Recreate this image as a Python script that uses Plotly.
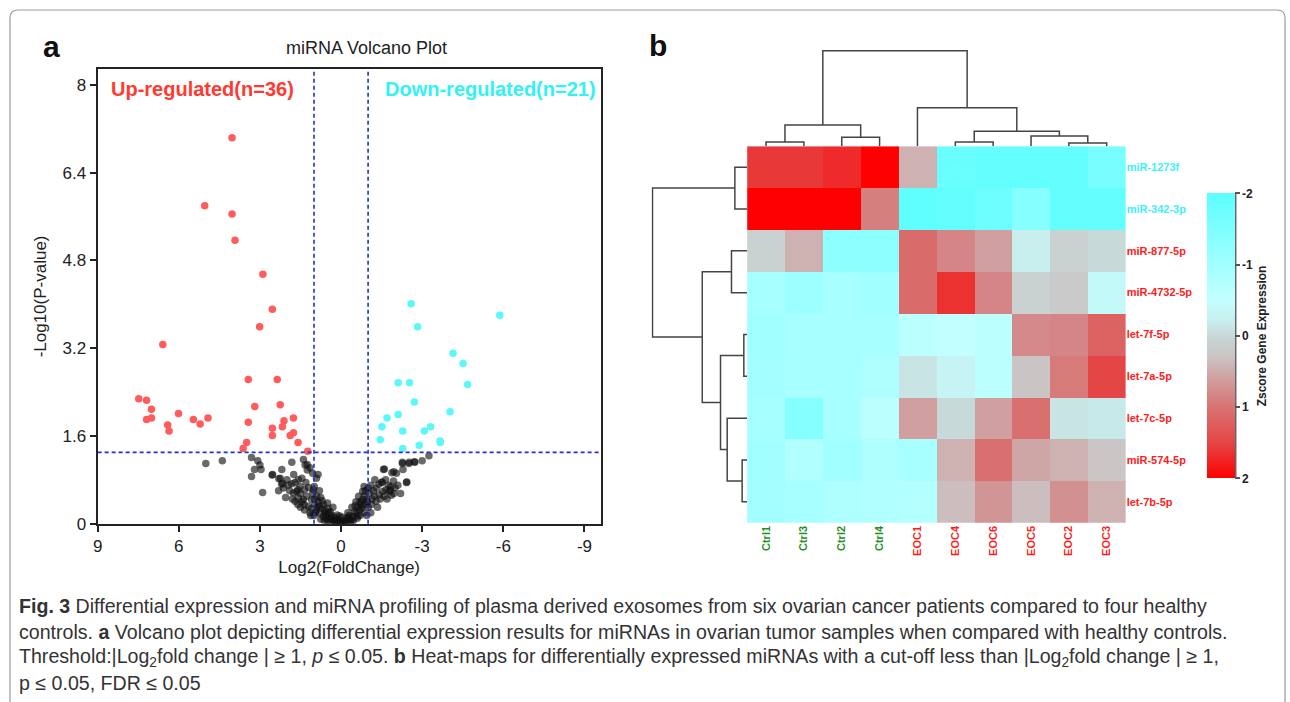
import plotly.graph_objects as go

W, H = 1290, 702          # reference picture size (layout is expressed in these pixels)
FIG_H = 713               # page height used so the photographed picture maps 1:1 to H
def fx(p):
    return p / W
def fy(p):
    return 1 - p / H

# ---------------- volcano data ----------------
up_log2fc = [4.03, 5.04, 4.03, 3.92, 2.89, 2.54, 3.01, 6.59, 3.43, 2.36, 7.48, 7.19, 7.01, 7.19,
             7.01, 6.01, 6.41, 6.36, 5.46, 5.21, 4.92, 3.19, 2.25, 3.43, 2.54, 2.11, 1.76, 2.17,
             2.54, 1.76, 1.88, 1.59, 3.49, 3.62, 1.23]
up_neglogp = [7.04, 5.80, 5.65, 5.17, 4.55, 3.91, 3.59, 3.27, 2.63, 2.63, 2.28, 2.25, 2.09, 1.90,
              1.93, 2.01, 1.80, 1.69, 1.90, 1.82, 1.93, 2.14, 2.17, 1.85, 1.74, 1.88, 1.93, 1.77,
              1.61, 1.66, 1.61, 1.48, 1.48, 1.37, 1.32]

down_log2fc = [-2.59, -5.87, -2.83, -4.14, -4.51, -4.68, -2.11, -2.53, -2.71, -4.03, -1.70, -2.11,
               -1.51, -2.28, -3.08, -3.31, -1.45, -3.66, -3.67, -2.89, -2.28]
down_neglogp = [4.01, 3.80, 3.59, 3.11, 2.92, 2.54, 2.57, 2.57, 2.22, 2.04, 1.93, 1.99,
                1.77, 1.69, 1.69, 1.77, 1.53, 1.51, 1.48, 1.43, 1.37]

ns_log2fc = [5.00, 4.39, 3.31, 3.08, 3.00, 2.96, 3.20, 3.31, 2.90, 2.53, 2.25, 2.19, 2.16, 2.31, 2.13,
             1.82, 1.82, 1.76, 1.58, 1.45, 1.39, 1.33, 1.25, 1.52, 1.64, 1.70, 1.58, 1.39, 1.27, 1.37,
             1.21, 1.09, 0.97, 0.91, 0.99, 1.05, 0.91, 0.78, 0.66, 0.54, 0.42, 0.30, 0.17, 0.05, -0.07,
             -0.19, -0.32, -0.44, -0.56, -0.68, -0.74, -0.80, -0.86, -0.80, -1.05, -1.23, -1.29, -1.41,
             -1.54, -1.66, -1.84, -1.78, -1.51, -1.57, -1.88, -1.94, -2.29, -2.27, -2.42, -2.51, -2.73,
             -3.00, -3.25,
             2.55, 2.00, 1.95, 2.05, 1.90, 2.30, 2.20, 1.70, 1.75, 1.60, 1.50, 1.45, 1.35, 1.30, 1.20,
             1.15, 1.10, 1.00, 1.35, 1.50, 1.60, 1.80, 1.25, 1.15, 1.05, 0.98, 0.90, 0.85, 0.80, 0.95,
             0.70, 0.60, 0.75, 0.62, 0.50, 0.45, 0.35, 0.25, 0.20, 0.10, 0.00, -0.10, -0.05, 0.15, 0.40,
             0.55, 0.65, -0.20, -0.30, -0.35, -0.45, -0.50, -0.60, -0.62, -0.70, -0.75, -0.85, -0.90,
             -0.95, -0.90, -0.85, -1.00, -1.10, -1.15, -1.20, -1.30, -1.35, -1.45, -1.60, -1.70, -1.75,
             -1.65, -2.00, -2.10, -1.95, -2.20, -1.00, -0.95, -1.10, -0.55, -0.40, 0.30, 0.50, 0.80,
             0.85, 0.75, -0.65, -1.25, -1.40,
             -2.27, -2.52, -2.71, -1.60, -1.95, -2.05, -2.43, -1.51, -1.82, -1.86,
             0.12, -0.15, 0.35, -0.40, 0.60, -0.62, 0.25, -0.28, 0.48, -0.52, 0.05, 0.88, -0.78,
             1.12, 1.02, -0.98, -1.12, 0.70, -0.70, 0.40, -0.25]
ns_neglogp = [1.10, 1.15, 1.21, 1.15, 1.07, 0.99, 0.99, 0.86, 0.57, 0.90, 0.83, 0.99, 0.74, 0.60, 0.65,
              1.12, 0.73, 0.56, 0.80, 0.83, 1.17, 1.07, 0.98, 0.68, 0.59, 0.41, 0.47, 0.44, 0.50, 0.35,
              0.32, 0.44, 0.35, 0.83, 0.68, 0.56, 0.25, 0.19, 0.13, 0.16, 0.10, 0.07, 0.04, 0.01, 0.00,
              0.01, 0.07, 0.13, 0.19, 0.25, 0.38, 0.44, 0.50, 0.59, 0.56, 0.50, 0.41, 0.53,
              0.59, 0.62, 0.68, 0.59, 0.75, 0.99, 0.93, 0.78, 0.99, 1.10, 0.75, 1.10, 1.12,
              1.15, 1.24,
              0.89, 0.80, 0.70, 0.48, 0.60, 0.82, 0.72, 0.75, 0.90, 0.62, 0.55, 0.40, 0.62, 0.75, 0.66,
              0.20, 0.28, 0.15, 0.25, 0.30, 0.35, 0.45, 1.08, 1.02, 0.92, 0.45, 0.50, 0.40, 0.32, 0.20,
              0.28, 0.20, 0.08, 0.06, 0.05, 0.20, 0.15, 0.12, 0.02, 0.08, 0.03, 0.05, 0.12, 0.16, 0.03,
              0.10, 0.35, 0.10, 0.15, 0.02, 0.05, 0.22, 0.10, 0.30, 0.15, 0.28, 0.20, 0.35,
              0.45, 0.60, 0.68, 0.65, 0.70, 0.45, 0.60, 0.65, 0.30, 0.45, 0.50, 0.45, 0.70,
              0.80, 0.65, 0.70, 0.55, 0.55, 0.30, 0.15, 0.20, 0.40, 0.30, 0.30, 0.38, 0.60,
              0.90, 0.48, 0.50, 0.80, 0.72,
              1.12, 1.12, 1.13, 1.00, 0.95, 0.92, 0.76, 0.76, 0.61, 0.52,
              0.06, 0.03, 0.09, 0.08, 0.24, 0.14, 0.05, 0.12, 0.28, 0.33, 0.14, 0.30, 0.33,
              0.15, 0.62, 0.40, 0.35, 0.42, 0.40, 0.22, 0.20]

fc_cut = 1.0
p_cut = 1.301
volcano_xticks = [9, 6, 3, 0, -3, -6, -9]
volcano_xtick_text = ["9", "6", "3", "0", "-3", "-6", "-9"]
volcano_yticks = [0, 1.6, 3.2, 4.8, 6.4, 8]
volcano_ytick_text = ["0", "1.6", "3.2", "4.8", "6.4", "8"]

# ---------------- heatmap data ----------------
genes = ["miR-1273f", "miR-342-3p", "miR-877-5p", "miR-4732-5p", "let-7f-5p",
         "let-7a-5p", "let-7c-5p", "miR-574-5p", "let-7b-5p"]
gene_dir = ["down", "down", "up", "up", "up", "up", "up", "up", "up"]
samples = ["Ctrl1", "Ctrl3", "Ctrl2", "Ctrl4", "EOC1", "EOC4", "EOC6", "EOC5", "EOC2", "EOC3"]
sample_group = ["ctrl", "ctrl", "ctrl", "ctrl", "eoc", "eoc", "eoc", "eoc", "eoc", "eoc"]
zscore = [
    [1.6, 1.6, 1.7, 2.0, 0.45, -1.8, -1.9, -1.9, -1.9, -1.6],
    [2.0, 2.0, 2.0, 0.9, -1.95, -1.9, -1.75, -1.4, -1.9, -1.9],
    [0.1, 0.45, -1.3, -1.3, 1.1, 0.85, 0.6, -0.2, 0.1, 0.0],
    [-0.9, -1.05, -0.9, -1.0, 1.1, 1.65, 0.85, 0.1, 0.2, -0.4],
    [-1.0, -0.9, -0.9, -0.9, -0.6, -0.5, -0.6, 0.8, 0.85, 1.2],
    [-0.95, -0.9, -0.9, -0.8, -0.1, -0.3, -0.6, 0.3, 0.95, 1.5],
    [-0.9, -1.4, -0.9, -0.6, 0.6, 0.0, 0.6, 1.05, -0.1, -0.15],
    [-1.0, -0.75, -1.0, -0.8, -0.9, 0.45, 1.05, 0.55, 0.45, 0.28],
    [-0.95, -0.9, -0.8, -0.75, -0.7, 0.35, 0.7, 0.35, 0.75, 0.45],
]
zscore_ticks = [-2, -1, 0, 1, 2]

# dendrogram merges: (left id, right id, height); new ids start after the leaves
col_merges = [(0, 1, 4.3), (2, 3, 9.0), (10, 11, 21.3), (5, 6, 4.3), (8, 9, 3.3),
              (7, 14, 10.3), (13, 15, 15.0), (4, 16, 38.3), (12, 17, 95.3)]
row_merges = [(0, 1, 12.3), (2, 3, 15.7), (4, 5, 3.3), (7, 8, 5.0), (6, 12, 20.0),
              (11, 13, 26.7), (10, 14, 45.0), (9, 15, 95.0)]

# colour stops (z value, colour)
z_stops = [(-2.0, "#5cffff"), (-1.0, "#a0ffff"), (-0.5, "#c2ffff"), (-0.2, "#c8eeee"),
           (0.05, "#c8d4d4"), (0.3, "#cbc4c4"), (0.6, "#d0a0a0"), (1.0, "#d87474"),
           (1.5, "#e44646"), (2.0, "#ff0000")]


def dendro_segments(n_leaves, merges):
    pos = {i: float(i) for i in range(n_leaves)}
    hgt = {i: 0.0 for i in range(n_leaves)}
    P, Hh = [], []
    for k, (a, b, h) in enumerate(merges):
        P += [pos[a], pos[a], pos[b], pos[b], None]
        Hh += [hgt[a], h, h, hgt[b], None]
        nid = n_leaves + k
        pos[nid] = (pos[a] + pos[b]) / 2.0
        hgt[nid] = h
    return P, Hh


FONT = "Liberation Sans, Arial, sans-serif"
fig = go.Figure()

# volcano points
fig.add_trace(go.Scatter(x=ns_log2fc, y=ns_neglogp, mode="markers", xaxis="x", yaxis="y",
                         marker=dict(size=7.5, color="rgba(15,15,15,0.62)", line=dict(width=0)),
                         showlegend=False, hoverinfo="x+y"))
fig.add_trace(go.Scatter(x=up_log2fc, y=up_neglogp, mode="markers", xaxis="x", yaxis="y",
                         marker=dict(size=7.5, color="#ff5c5c", line=dict(width=0)),
                         showlegend=False, hoverinfo="x+y"))
fig.add_trace(go.Scatter(x=down_log2fc, y=down_neglogp, mode="markers", xaxis="x", yaxis="y",
                         marker=dict(size=7.5, color="#5cf8f8", line=dict(width=0)),
                         showlegend=False, hoverinfo="x+y"))

# heatmap (values negated so the colour bar runs -2 at top to 2 at bottom)
neg_z = [[-v for v in row] for row in zscore]
cs = [[(2 - z) / 4.0, c] for z, c in reversed(z_stops)]
fig.add_trace(go.Heatmap(
    z=neg_z, x=list(range(len(samples))), y=list(range(len(genes))),
    customdata=zscore, hovertemplate="%{customdata}<extra></extra>",
    colorscale=cs, zmin=-2, zmax=2, xaxis="x2", yaxis="y2",
    colorbar=dict(x=fx(1207), xanchor="left", xpad=0, ypad=0,
                  y=fy(335.5), yanchor="middle", lenmode="fraction", len=285 / H,
                  thickness=28, outlinewidth=0,
                  tickvals=[-t for t in zscore_ticks], ticktext=[f"<b>{t}</b>" for t in zscore_ticks],
                  ticks="outside", ticklen=5, tickwidth=1.5, tickcolor="#555",
                  tickfont=dict(family=FONT, size=12, color="#222"),
                  title=dict(text="<b>Zscore Gene Expression</b>", side="right",
                             font=dict(family=FONT, size=12, color="#222")))))

# dendrograms
cP, cH = dendro_segments(len(samples), col_merges)
fig.add_trace(go.Scatter(x=cP, y=cH, mode="lines", xaxis="x3", yaxis="y3",
                         line=dict(color="#444", width=1.5), showlegend=False,
                         hoverinfo="skip", cliponaxis=False))
rP, rH = dendro_segments(len(genes), row_merges)
fig.add_trace(go.Scatter(x=rH, y=rP, mode="lines", xaxis="x4", yaxis="y4",
                         line=dict(color="#444", width=1.5), showlegend=False,
                         hoverinfo="skip", cliponaxis=False))

dir_color = {"down": "#3ef0f8", "up": "#ff2020"}
grp_color = {"ctrl": "#1f8f1f", "eoc": "#ff1a1a"}
row_text = [f"<span style='color:{dir_color[d]}'><b>{g}</b></span>" for g, d in zip(genes, gene_dir)]
col_text = [f"<span style='color:{grp_color[g]}'><b>{s}</b></span>" for s, g in zip(samples, sample_group)]

axis_font = dict(family=FONT, size=17, color="#222")
fig.update_layout(
    width=W, height=FIG_H, margin=dict(l=0, r=0, t=0, b=0), autosize=False,
    paper_bgcolor="white", plot_bgcolor="white",
    xaxis=dict(domain=[fx(93), fx(598)], range=[9, -9.6], anchor="y",
               tickvals=volcano_xticks, ticktext=volcano_xtick_text,
               ticks="outside", ticklen=6, tickwidth=1.5, tickcolor="#222",
               showline=True, mirror=True, linecolor="#222", linewidth=2,
               showgrid=False, zeroline=False, tickfont=axis_font,
               title=dict(text="Log2(FoldChange)", font=axis_font, standoff=6)),
    yaxis=dict(domain=[fy(523), fy(69)], range=[0, 8.29], anchor="x",
               tickvals=volcano_yticks, ticktext=volcano_ytick_text,
               ticks="outside", ticklen=6, tickwidth=1.5, tickcolor="#222",
               showline=True, mirror=True, linecolor="#222", linewidth=2,
               showgrid=False, zeroline=False, tickfont=axis_font,
               title=dict(text="-Log10(P-value)", font=axis_font, standoff=12)),
    xaxis2=dict(domain=[fx(745), fx(1125)], range=[-0.5, len(samples) - 0.5], anchor="y2",
                tickvals=list(range(len(samples))), ticktext=col_text, tickangle=-90,
                ticks="", showline=False, showgrid=False, zeroline=False,
                tickfont=dict(family=FONT, size=11)),
    yaxis2=dict(domain=[fy(522), fy(146)], range=[len(genes) - 0.5, -0.5], anchor="x2",
                side="right", tickvals=list(range(len(genes))), ticktext=row_text,
                ticks="", showline=False, showgrid=False, zeroline=False,
                tickfont=dict(family=FONT, size=11)),
    xaxis3=dict(domain=[fx(745), fx(1125)], range=[-0.5, len(samples) - 0.5], anchor="y3",
                visible=False),
    yaxis3=dict(domain=[fy(146), fy(50)], range=[0, 96], anchor="x3", visible=False),
    xaxis4=dict(domain=[fx(649), fx(745)], range=[96, 0], anchor="y4", visible=False),
    yaxis4=dict(domain=[fy(522), fy(146)], range=[len(genes) - 0.5, -0.5], anchor="x4",
                visible=False),
)

dash_line = dict(color="#2030d8", width=1.6, dash="4px,3px")
shapes = [
    dict(type="line", xref="x", yref="y domain", x0=fc_cut, x1=fc_cut, y0=0, y1=1, line=dash_line),
    dict(type="line", xref="x", yref="y domain", x0=-fc_cut, x1=-fc_cut, y0=0, y1=1, line=dash_line),
    dict(type="line", xref="x domain", yref="y", x0=0, x1=1, y0=p_cut, y1=p_cut, line=dash_line),
    dict(type="line", xref="paper", yref="paper", x0=fx(1235.5), x1=fx(1235.5),
         y0=fy(478), y1=fy(193), line=dict(color="#666", width=1.5)),
    dict(type="path", xref="paper", yref="paper",
         path=(f"M {fx(5)},{fy(702)} L {fx(5)},{fy(18)} Q {fx(5)},{fy(10)} {fx(13)},{fy(10)} "
               f"L {fx(1277)},{fy(10)} Q {fx(1285)},{fy(10)} {fx(1285)},{fy(18)} L {fx(1285)},{fy(702)}"),
         line=dict(color="#9a9a9a", width=1.2)),
]
fig.update_layout(shapes=shapes)

ann = []
def add_text(x, y, text, size, color="#222", xanchor="left", family=FONT):
    ann.append(dict(x=fx(x), y=fy(y), xref="paper", yref="paper", text=text, showarrow=False,
                    xanchor=xanchor, yanchor="middle", font=dict(family=family, size=size, color=color)))

add_text(36, 46, "<b>a</b>", 30, "#111")
add_text(644, 45, "<b>b</b>", 30, "#111")
add_text(363, 48, "miRNA Volcano Plot", 18, "#222", xanchor="center")
add_text(104, 89, "<b>Up-regulated(n=36)</b>", 20, "#ff3a30")
add_text(379, 89, "<b>Down-regulated(n=21)</b>", 20, "#33f2f2")

cap_color = "#333"
cap_size = 19.6
add_text(12, 605, "<b>Fig. 3</b> Differential expression and miRNA profiling of plasma derived exosomes "
         "from six ovarian cancer patients compared to four healthy", cap_size, cap_color)
add_text(12, 631, "controls. <b>a</b> Volcano plot depicting differential expression results for miRNAs "
         "in ovarian tumor samples when compared with healthy controls.", cap_size, cap_color)
add_text(12, 657, "Threshold:|Log<sub>2</sub>fold change | ≥ 1, <i>p</i> ≤ 0.05. <b>b</b> Heat-maps for "
         "differentially expressed miRNAs with a cut-off less than |Log<sub>2</sub>fold change | ≥ 1,",
         cap_size, cap_color)
add_text(12, 682, "p ≤ 0.05, FDR ≤ 0.05", cap_size, cap_color)
fig.update_layout(annotations=ann)

fig.write_html(
    "out.html",
    config={"displayModeBar": False, "responsive": False},
    post_script=("document.body.style.margin='0';"
                 "document.body.style.overflow='hidden';"
                 "document.documentElement.style.overflow='hidden';"),
)
